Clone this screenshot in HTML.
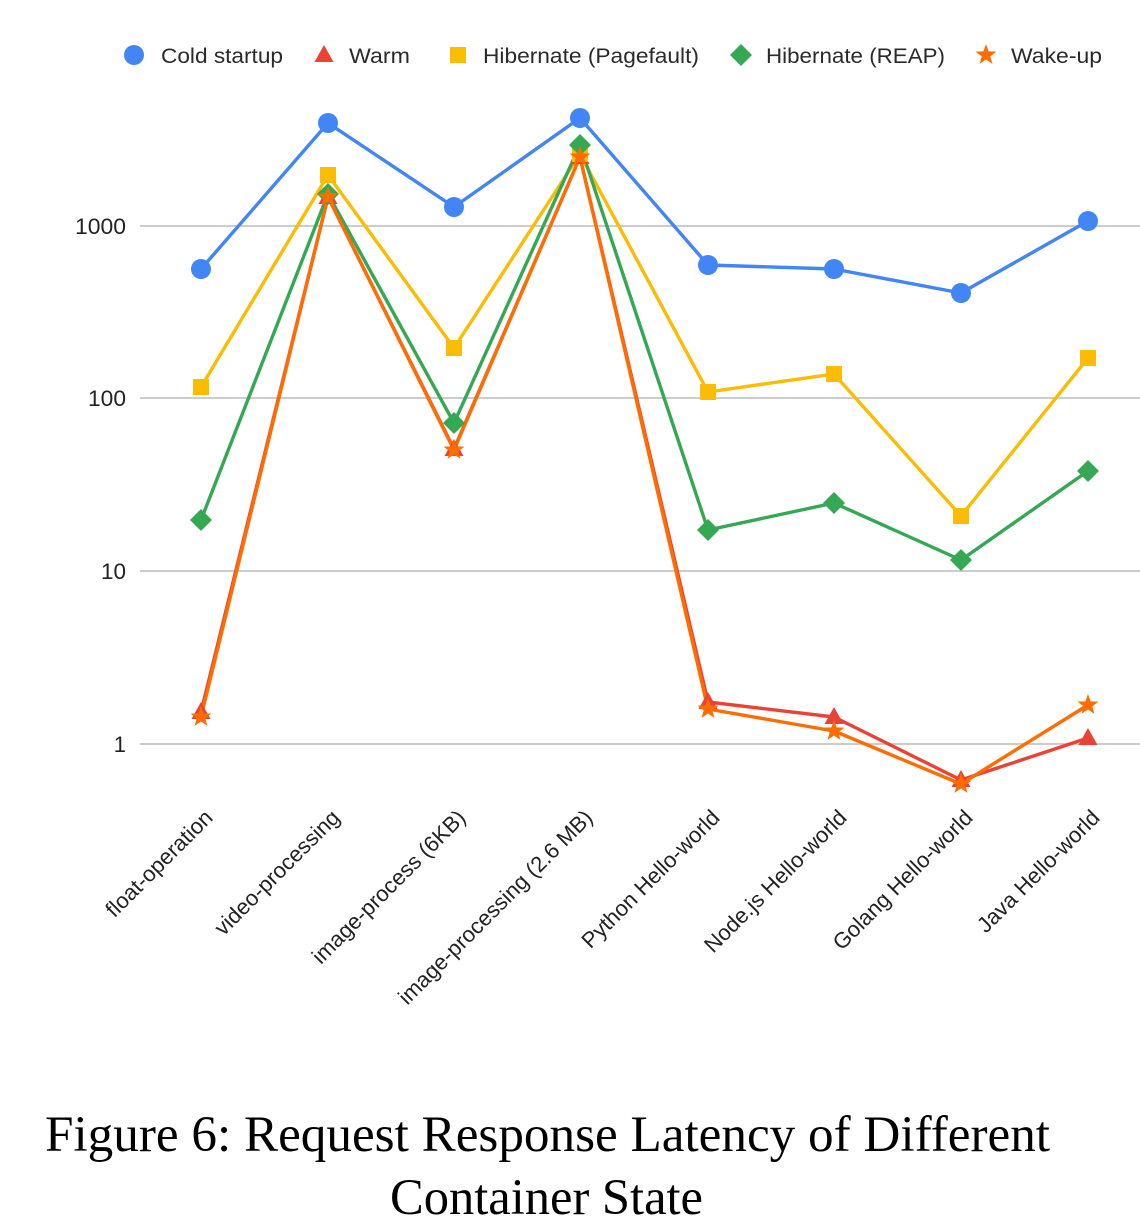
<!DOCTYPE html>
<html>
<head>
<meta charset="utf-8">
<style>
html,body{margin:0;padding:0;background:#fff;}
svg{display:block;}
</style>
</head>
<body>
<svg width="1140" height="1231" viewBox="0 0 1140 1231" xmlns="http://www.w3.org/2000/svg">
<defs>
<path id="star" d="M0,-11 L2.65,-3.64 L10.46,-3.4 L4.28,1.39 L6.47,8.9 L0,4.5 L-6.47,8.9 L-4.28,1.39 L-10.46,-3.4 L-2.65,-3.64 Z"/>
<path id="tri" d="M0,-10 L9.5,7 L-9.5,7 Z"/>
<path id="dia" d="M0,-11 L11,0 L0,11 L-11,0 Z"/>
</defs>
<rect width="1140" height="1231" fill="#fff"/>

<!-- Legend -->
<g font-family="Liberation Sans, Arial, sans-serif" font-size="21" fill="#2a2a2a">
<circle cx="134" cy="55" r="10" fill="#4285F4"/>
<text x="161" y="63" textLength="122" lengthAdjust="spacingAndGlyphs">Cold startup</text>
<use href="#tri" x="324" y="55" fill="#EA4335"/>
<text x="349" y="63" textLength="61" lengthAdjust="spacingAndGlyphs">Warm</text>
<rect x="450" y="47" width="16" height="16" fill="#FBBC04"/>
<text x="483" y="63" textLength="216" lengthAdjust="spacingAndGlyphs">Hibernate (Pagefault)</text>
<use href="#dia" x="741" y="55" fill="#34A853"/>
<text x="766" y="63" textLength="179" lengthAdjust="spacingAndGlyphs">Hibernate (REAP)</text>
<use href="#star" x="986" y="55" fill="#FF6D01"/>
<text x="1011" y="63" textLength="91" lengthAdjust="spacingAndGlyphs">Wake-up</text>
</g>

<!-- Gridlines -->
<g stroke="#cccccc" stroke-width="2">
<line x1="140" y1="226" x2="1140" y2="226"/>
<line x1="140" y1="398" x2="1140" y2="398"/>
<line x1="140" y1="571" x2="1140" y2="571"/>
<line x1="140" y1="744" x2="1140" y2="744"/>
</g>

<!-- Y labels -->
<g font-family="Liberation Sans, Arial, sans-serif" font-size="22" fill="#222" text-anchor="end">
<text x="126" y="234" textLength="51" lengthAdjust="spacingAndGlyphs">1000</text>
<text x="126" y="406" textLength="38" lengthAdjust="spacingAndGlyphs">100</text>
<text x="126" y="579" textLength="25" lengthAdjust="spacingAndGlyphs">10</text>
<text x="126" y="752">1</text>
</g>

<!-- Series lines -->
<g fill="none" stroke-width="3.4" stroke-linejoin="round">
<polyline stroke="#4285F4" points="201,269 328,123 454,207 580,118 708,265 834,269 961,293 1088,221"/>
<polyline stroke="#EA4335" points="201,712 328,197 454,449 580,157 708,702 834,717 961,780 1088,738"/>
<polyline stroke="#FBBC04" points="201,387 328,175 454,348 580,154 708,392 834,374 961,516 1088,358"/>
<polyline stroke="#34A853" points="201,520 328,194 454,423 580,145 708,530 834,503 961,560 1088,471"/>
<polyline stroke="#FF6D01" points="201,717 328,197 454,450 580,157 708,709 834,731 961,784 1088,705"/>
</g>

<!-- Markers: blue -->
<g fill="#4285F4">
<circle cx="201" cy="269" r="10"/>
<circle cx="328" cy="123" r="10"/>
<circle cx="454" cy="207" r="10"/>
<circle cx="580" cy="118" r="10"/>
<circle cx="708" cy="265" r="10"/>
<circle cx="834" cy="269" r="10"/>
<circle cx="961" cy="293" r="10"/>
<circle cx="1088" cy="221" r="10"/>
</g>
<!-- red -->
<g fill="#EA4335">
<use href="#tri" x="201" y="712"/>
<use href="#tri" x="328" y="197"/>
<use href="#tri" x="454" y="449"/>
<use href="#tri" x="580" y="157"/>
<use href="#tri" x="708" y="702"/>
<use href="#tri" x="834" y="717"/>
<use href="#tri" x="961" y="780"/>
<use href="#tri" x="1088" y="738"/>
</g>
<!-- yellow -->
<g fill="#FBBC04">
<rect x="193" y="379" width="16" height="16"/>
<rect x="320" y="167" width="16" height="16"/>
<rect x="446" y="340" width="16" height="16"/>
<rect x="572" y="146" width="16" height="16"/>
<rect x="700" y="384" width="16" height="16"/>
<rect x="826" y="366" width="16" height="16"/>
<rect x="953" y="508" width="16" height="16"/>
<rect x="1080" y="350" width="16" height="16"/>
</g>
<!-- green -->
<g fill="#34A853">
<use href="#dia" x="201" y="520"/>
<use href="#dia" x="328" y="194"/>
<use href="#dia" x="454" y="423"/>
<use href="#dia" x="580" y="145"/>
<use href="#dia" x="708" y="530"/>
<use href="#dia" x="834" y="503"/>
<use href="#dia" x="961" y="560"/>
<use href="#dia" x="1088" y="471"/>
</g>
<!-- orange -->
<g fill="#FF6D01">
<use href="#star" x="201" y="717"/>
<use href="#star" x="328" y="197"/>
<use href="#star" x="454" y="450"/>
<use href="#star" x="580" y="157"/>
<use href="#star" x="708" y="709"/>
<use href="#star" x="834" y="731"/>
<use href="#star" x="961" y="784"/>
<use href="#star" x="1088" y="705"/>
</g>

<!-- X labels -->
<g font-family="Liberation Sans, Arial, sans-serif" font-size="22" fill="#222" text-anchor="end">
<text transform="translate(214,819) rotate(-45)">float-operation</text>
<text transform="translate(341,819) rotate(-45)">video-processing</text>
<text transform="translate(467,819) rotate(-45)">image-process (6KB)</text>
<text transform="translate(594,819) rotate(-45)">image-processing (2.6 MB)</text>
<text transform="translate(721,819) rotate(-45)">Python Hello-world</text>
<text transform="translate(848,819) rotate(-45)">Node.js Hello-world</text>
<text transform="translate(974,819) rotate(-45)">Golang Hello-world</text>
<text transform="translate(1101,819) rotate(-45)">Java Hello-world</text>
</g>

<!-- Caption -->
<g font-family="Liberation Serif, Times New Roman, serif" font-size="51" fill="#000">
<text x="45" y="1151" textLength="1005" lengthAdjust="spacingAndGlyphs">Figure 6: Request Response Latency of Different</text>
<text x="390" y="1214" textLength="313" lengthAdjust="spacingAndGlyphs">Container State</text>
</g>
</svg>
</body>
</html>
